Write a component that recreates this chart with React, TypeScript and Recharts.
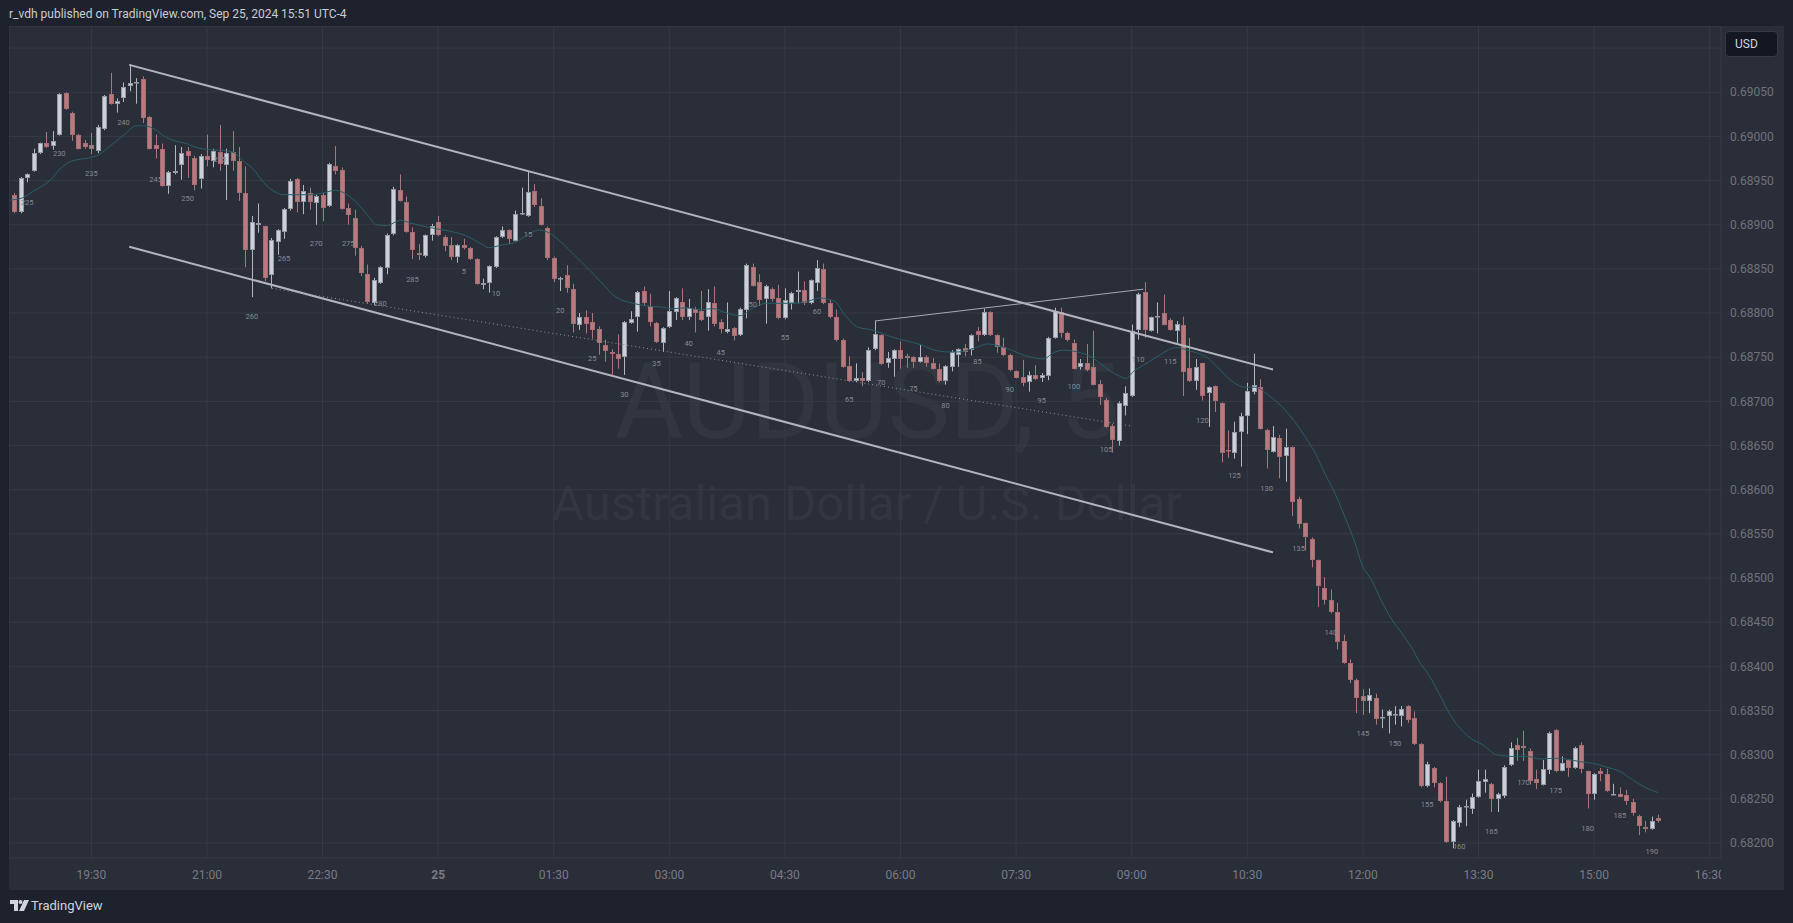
import React from 'react';
import {
  ComposedChart,
  Bar,
  Line,
  Scatter,
  XAxis,
  YAxis,
  CartesianGrid,
  ReferenceLine,
} from 'recharts';

// AUDUSD 5m, first candle 18:30 (Sep 24), last 15:50 (Sep 25)
const opens = [
  0.68934, 0.68914, 0.68953, 0.68961, 0.68981, 0.68993, 0.68989, 0.69002, 0.69049, 0.69027,
  0.69002, 0.68992, 0.6899, 0.68984, 0.69008, 0.69048, 0.69037, 0.69044, 0.69057, 0.6906,
  0.69065, 0.69022, 0.6899, 0.68986, 0.68944, 0.68958, 0.68968, 0.68983, 0.68975, 0.68952,
  0.68978, 0.68972, 0.68982, 0.68968, 0.68982, 0.68972, 0.68936, 0.68871, 0.689, 0.68898,
  0.68843, 0.68881, 0.68892, 0.68918, 0.68952, 0.68926, 0.68936, 0.68925, 0.68934, 0.68921,
  0.68967, 0.68962, 0.68919, 0.68908, 0.68874, 0.68844, 0.68811, 0.68834, 0.68851, 0.68889,
  0.68939, 0.68926, 0.68892, 0.68868, 0.68865, 0.68888, 0.68903, 0.68886, 0.68877, 0.68863,
  0.68877, 0.68874, 0.68861, 0.68832, 0.68834, 0.68852, 0.68886, 0.68894, 0.68882, 0.68912,
  0.6891, 0.68938, 0.68921, 0.68896, 0.68862, 0.68838, 0.68843, 0.68827, 0.68787, 0.68796,
  0.6879, 0.68782, 0.68764, 0.68756, 0.68754, 0.6875, 0.68789, 0.68795, 0.68825, 0.68808,
  0.68789, 0.68766, 0.68784, 0.68801, 0.68812, 0.68795, 0.68805, 0.68802, 0.68795, 0.68811,
  0.6879, 0.68778, 0.68783, 0.68775, 0.68803, 0.68852, 0.68835, 0.68816, 0.68827, 0.68817,
  0.68794, 0.68811, 0.68824, 0.68826, 0.68811, 0.68834, 0.6885, 0.68811, 0.68795, 0.6877,
  0.6874, 0.68723, 0.68727, 0.68723, 0.68759, 0.68775, 0.68743, 0.68748, 0.68758, 0.68751,
  0.6875, 0.68745, 0.6875, 0.68743, 0.68737, 0.68723, 0.68739, 0.68753, 0.6876, 0.68758,
  0.6878, 0.68775, 0.68801, 0.68775, 0.68762, 0.68753, 0.68734, 0.68728, 0.68722, 0.6873,
  0.68726, 0.68729, 0.68772, 0.68801, 0.68777, 0.68766, 0.68739, 0.68743, 0.68739, 0.6872,
  0.68702, 0.68672, 0.68655, 0.68695, 0.68706, 0.68781, 0.68824, 0.6878, 0.68795, 0.688,
  0.68792, 0.6878, 0.68787, 0.68738, 0.68723, 0.68743, 0.68709, 0.68717, 0.68698, 0.68645,
  0.68641, 0.68665, 0.68683, 0.68711, 0.68716, 0.68668, 0.68643, 0.68658, 0.68638, 0.68648,
  0.6859, 0.68562, 0.68544, 0.6852, 0.68489, 0.68475, 0.68461, 0.68429, 0.68404, 0.68385,
  0.68366, 0.68361, 0.68364, 0.68341, 0.68344, 0.68345, 0.68344, 0.68355, 0.68341, 0.68312,
  0.68264, 0.68285, 0.68268, 0.68247, 0.68201, 0.68223, 0.68241, 0.68238, 0.68252, 0.68269,
  0.68267, 0.6825, 0.68253, 0.68288, 0.68311, 0.6831, 0.68304, 0.68272, 0.68266, 0.68283,
  0.68328, 0.68282, 0.68294, 0.68285, 0.68311, 0.68281, 0.68256, 0.68281, 0.68278, 0.68255,
  0.68256, 0.68254, 0.68246, 0.6823, 0.68218, 0.68216, 0.68228,
];
const highs = [
  0.68936, 0.68954, 0.68958, 0.68986, 0.68993, 0.69005, 0.69006, 0.69049, 0.6905, 0.69028,
  0.69003, 0.68996, 0.69004, 0.69013, 0.69047, 0.69072, 0.69043, 0.69061, 0.69082, 0.69066,
  0.69068, 0.69023, 0.69002, 0.68992, 0.68961, 0.6899, 0.68988, 0.68988, 0.68978, 0.6898,
  0.69002, 0.68986, 0.69013, 0.68986, 0.69006, 0.68988, 0.68966, 0.6891, 0.68924, 0.68899,
  0.68885, 0.68895, 0.68919, 0.68952, 0.68953, 0.68945, 0.68942, 0.68934, 0.68936, 0.6897,
  0.68989, 0.68965, 0.68924, 0.68917, 0.68876, 0.68855, 0.6884, 0.68853, 0.6889, 0.68943,
  0.68957, 0.68932, 0.68897, 0.68878, 0.68889, 0.68901, 0.6891, 0.68888, 0.68886, 0.68878,
  0.68884, 0.68875, 0.68862, 0.68839, 0.68854, 0.68887, 0.68898, 0.68895, 0.68916, 0.68942,
  0.68961, 0.68946, 0.6893, 0.68898, 0.68864, 0.68841, 0.68854, 0.68833, 0.688, 0.68803,
  0.688, 0.68785, 0.6877, 0.68759, 0.68776, 0.68791, 0.68802, 0.68825, 0.6883, 0.68822,
  0.6879, 0.68784, 0.68825, 0.68818, 0.68828, 0.68816, 0.68807, 0.68825, 0.68827, 0.6883,
  0.68793, 0.68812, 0.68784, 0.68806, 0.68856, 0.68856, 0.68844, 0.68832, 0.68829, 0.68832,
  0.68828, 0.68824, 0.68847, 0.68836, 0.68838, 0.6886, 0.68856, 0.68815, 0.68804, 0.68771,
  0.68751, 0.68743, 0.68733, 0.68761, 0.68791, 0.68776, 0.68756, 0.68759, 0.68768, 0.68754,
  0.68751, 0.68764, 0.68752, 0.68749, 0.68743, 0.68741, 0.68758, 0.6876, 0.68765, 0.68776,
  0.68784, 0.68805, 0.68802, 0.68776, 0.68772, 0.68754, 0.68735, 0.68747, 0.68734, 0.68741,
  0.68732, 0.68773, 0.68806, 0.68806, 0.68779, 0.6877, 0.68748, 0.68765, 0.6878, 0.68724,
  0.68704, 0.68674, 0.687, 0.68717, 0.68787, 0.68823, 0.68835, 0.68796, 0.68812, 0.68821,
  0.68794, 0.68791, 0.68796, 0.68772, 0.68748, 0.68744, 0.68717, 0.68718, 0.68699, 0.68667,
  0.68677, 0.68687, 0.68721, 0.68754, 0.68725, 0.68669, 0.68672, 0.68662, 0.68669, 0.68649,
  0.68592, 0.68563, 0.68546, 0.68521, 0.68501, 0.68487, 0.68472, 0.68436, 0.68408, 0.68386,
  0.68374, 0.68375, 0.68369, 0.68351, 0.68351, 0.68355, 0.68355, 0.68356, 0.68349, 0.68313,
  0.68292, 0.68286, 0.68269, 0.68275, 0.68226, 0.68243, 0.68249, 0.68256, 0.68283, 0.68283,
  0.68268, 0.68257, 0.68288, 0.68314, 0.68319, 0.68327, 0.68307, 0.68283, 0.68294, 0.68326,
  0.68329, 0.68298, 0.68295, 0.68309, 0.68314, 0.68282, 0.68279, 0.68285, 0.68284, 0.68267,
  0.68263, 0.6826, 0.6825, 0.68232, 0.68225, 0.6823, 0.68232,
];
const lows = [
  0.68913, 0.68913, 0.68948, 0.6896, 0.6898, 0.68987, 0.68985, 0.69001, 0.6903, 0.68995,
  0.68985, 0.68986, 0.6898, 0.68981, 0.69007, 0.69036, 0.69027, 0.69039, 0.69051, 0.69037,
  0.69015, 0.68985, 0.68975, 0.68943, 0.68935, 0.68957, 0.68951, 0.68953, 0.68939, 0.68941,
  0.68966, 0.68965, 0.68961, 0.68928, 0.68961, 0.68927, 0.68852, 0.68818, 0.68891, 0.68836,
  0.68828, 0.68866, 0.68884, 0.68916, 0.68914, 0.68912, 0.68917, 0.689, 0.68904, 0.6892,
  0.68957, 0.68917, 0.689, 0.68865, 0.68842, 0.68811, 0.68809, 0.68833, 0.68844, 0.68888,
  0.68926, 0.68891, 0.68861, 0.6886, 0.68863, 0.68882, 0.68887, 0.6887, 0.6886, 0.68857,
  0.68872, 0.6886, 0.68832, 0.68827, 0.68823, 0.68851, 0.68885, 0.68878, 0.68881, 0.68911,
  0.68909, 0.6892, 0.68899, 0.6886, 0.68835, 0.68825, 0.68823, 0.68778, 0.68781, 0.68777,
  0.68771, 0.68753, 0.68745, 0.68728, 0.68737, 0.6873, 0.68788, 0.68779, 0.68809, 0.68785,
  0.68766, 0.68756, 0.68783, 0.68792, 0.68792, 0.68792, 0.68778, 0.68791, 0.6878, 0.68785,
  0.68777, 0.68777, 0.68769, 0.68774, 0.68794, 0.6883, 0.68808, 0.68788, 0.68813, 0.68793,
  0.68793, 0.68804, 0.68811, 0.68809, 0.6881, 0.68825, 0.6881, 0.68794, 0.68768, 0.68738,
  0.68722, 0.68722, 0.68717, 0.68722, 0.68758, 0.68741, 0.68738, 0.68728, 0.68737, 0.68738,
  0.68738, 0.68744, 0.68739, 0.68736, 0.68722, 0.68719, 0.68734, 0.68739, 0.68751, 0.68752,
  0.68768, 0.68774, 0.68774, 0.68755, 0.68751, 0.68734, 0.68726, 0.68717, 0.68711, 0.68724,
  0.68722, 0.68724, 0.68771, 0.68772, 0.68768, 0.68736, 0.68736, 0.68734, 0.68718, 0.68696,
  0.6867, 0.68642, 0.6865, 0.68684, 0.68705, 0.6877, 0.68772, 0.68779, 0.68777, 0.68786,
  0.6878, 0.68766, 0.68706, 0.68722, 0.68713, 0.68701, 0.68671, 0.68688, 0.68631, 0.68636,
  0.68635, 0.68626, 0.68663, 0.68708, 0.68668, 0.68624, 0.68642, 0.68613, 0.68609, 0.6857,
  0.68556, 0.68531, 0.68512, 0.68467, 0.6847, 0.6846, 0.68419, 0.68403, 0.68381, 0.68347,
  0.68345, 0.68347, 0.68334, 0.6833, 0.68324, 0.68334, 0.68332, 0.68336, 0.68311, 0.68263,
  0.68263, 0.68263, 0.68246, 0.682, 0.68194, 0.68218, 0.68219, 0.68233, 0.68251, 0.68257,
  0.68235, 0.68235, 0.68251, 0.68287, 0.68293, 0.68293, 0.68266, 0.68261, 0.68265, 0.68278,
  0.6828, 0.68281, 0.68275, 0.68284, 0.68279, 0.68239, 0.68249, 0.6827, 0.68258, 0.68254,
  0.68252, 0.68243, 0.68231, 0.68209, 0.68212, 0.68215, 0.68223,
];
const closes = [
  0.68914, 0.68953, 0.68957, 0.68981, 0.68992, 0.68988, 0.68995, 0.69048, 0.69031, 0.69002,
  0.68986, 0.68988, 0.68986, 0.69011, 0.69046, 0.69037, 0.6904, 0.69056, 0.6906, 0.69062,
  0.69021, 0.68986, 0.68986, 0.68944, 0.6896, 0.68961, 0.68981, 0.68978, 0.68945, 0.68978,
  0.68973, 0.68984, 0.68969, 0.68981, 0.68972, 0.68936, 0.68871, 0.68903, 0.68902, 0.6884,
  0.68883, 0.68894, 0.68918, 0.6895, 0.68926, 0.68938, 0.68926, 0.68933, 0.68919, 0.68969,
  0.68961, 0.68918, 0.68911, 0.68874, 0.68845, 0.68813, 0.68837, 0.68852, 0.68888, 0.68941,
  0.68927, 0.68892, 0.68871, 0.68866, 0.68888, 0.68898, 0.68888, 0.68876, 0.68864, 0.68877,
  0.68874, 0.68861, 0.68833, 0.68834, 0.68853, 0.68886, 0.68894, 0.68884, 0.68912, 0.68913,
  0.68937, 0.68922, 0.689, 0.68862, 0.68838, 0.6884, 0.68828, 0.68788, 0.68795, 0.68788,
  0.68781, 0.68766, 0.68757, 0.68754, 0.68748, 0.6879, 0.68793, 0.68824, 0.68811, 0.6879,
  0.68767, 0.68783, 0.68802, 0.68817, 0.68795, 0.68806, 0.688, 0.68792, 0.68813, 0.68788,
  0.68782, 0.68782, 0.68774, 0.68805, 0.68854, 0.68831, 0.68815, 0.68831, 0.68816, 0.68794,
  0.68815, 0.68823, 0.68826, 0.68811, 0.68837, 0.68851, 0.68811, 0.68796, 0.68769, 0.68739,
  0.68723, 0.68727, 0.68723, 0.68758, 0.68776, 0.68742, 0.68749, 0.68758, 0.68748, 0.68749,
  0.68745, 0.6875, 0.68743, 0.68737, 0.68723, 0.6874, 0.68756, 0.68759, 0.68756, 0.68775,
  0.68775, 0.68801, 0.68775, 0.68761, 0.68752, 0.68735, 0.68727, 0.68721, 0.6873, 0.68725,
  0.6873, 0.68772, 0.68802, 0.68777, 0.6877, 0.68737, 0.68743, 0.68735, 0.68719, 0.68705,
  0.68671, 0.68656, 0.68698, 0.68709, 0.6878, 0.68822, 0.68781, 0.68795, 0.68797, 0.68787,
  0.68781, 0.68788, 0.68733, 0.68723, 0.68739, 0.68706, 0.68716, 0.687, 0.68641, 0.68644,
  0.68665, 0.68683, 0.68712, 0.68718, 0.68669, 0.68645, 0.6866, 0.68637, 0.68648, 0.68586,
  0.68561, 0.68546, 0.6852, 0.68491, 0.68475, 0.68461, 0.68428, 0.68404, 0.68385, 0.68364,
  0.68361, 0.68367, 0.6834, 0.68343, 0.68349, 0.68346, 0.68352, 0.68339, 0.68312, 0.68264,
  0.68289, 0.68268, 0.68247, 0.68201, 0.68225, 0.68241, 0.68242, 0.68252, 0.6827, 0.68272,
  0.6825, 0.68256, 0.68286, 0.68308, 0.68305, 0.68307, 0.6827, 0.68268, 0.68284, 0.68325,
  0.68281, 0.6829, 0.68285, 0.68308, 0.68284, 0.68256, 0.68278, 0.68278, 0.68259, 0.68255,
  0.68252, 0.68247, 0.68234, 0.68219, 0.68216, 0.68225, 0.68225,
];

// moving average line at these candle positions
const emaIdx = [
  -0.6, 1.1, 3, 5.8, 7.1, 8.9, 11.8, 13.1, 14.9, 17,
  19, 20.2, 21.9, 23.2, 25, 26.8, 28.1, 30.5, 32.6, 34.1,
  35.7, 37.2, 38.8, 40.4, 41.9, 44, 46.1, 48.1, 50, 51.8,
  53.3, 54.9, 56.4, 58, 60.1, 61.6, 64.5, 67.6, 70.2, 72.8,
  73.8, 75.9, 78, 80, 81.6, 83.2, 85.2, 87.3, 89.4, 91.5,
  93.5, 96.4, 98.5, 100.5, 102.6, 104.7, 106.8, 108.8, 110.9, 113,
  115.1, 117.1, 119.2, 121.3, 123.4, 125.4, 127.8, 129.3, 131.4, 133.5,
  136.6, 139.2, 141.2, 143.3, 145.4, 147, 148.5, 150.1, 151.6, 153.2,
  155.3, 157.3, 160.3, 161.8, 163.4, 165.5, 167.5, 169.1, 170.7, 172,
  173.1, 174.3, 175.8, 177.4, 178.9, 181, 182.6, 184.1, 185.7, 187.3,
  188.8, 190.4, 191.7, 193.2, 195.3, 197.9, 199.4, 201, 202.6, 204.1,
  205.7, 207.2, 208.8, 209.8, 211.4, 212.9, 214.5, 216, 217.6, 218.9,
  220.2, 221.8, 223.6, 226.7, 228.7, 230.8, 233.4, 235.5, 237.6, 239.6,
  241.7, 243.8, 245.9, 247.9, 250, 252.1, 254.2, 256,
];
const emaVal = [
  0.68928, 0.6893, 0.68938, 0.68952, 0.68963, 0.68972, 0.68976, 0.68979, 0.68989, 0.69001,
  0.69012, 0.69012, 0.69008, 0.69001, 0.68995, 0.68992, 0.68988, 0.68985, 0.68984, 0.68982,
  0.68972, 0.68963, 0.68948, 0.68938, 0.68934, 0.68934, 0.68934, 0.68936, 0.68939, 0.68934,
  0.68925, 0.68912, 0.689, 0.68899, 0.68905, 0.68902, 0.68897, 0.68893, 0.68888, 0.68878,
  0.68874, 0.68877, 0.6888, 0.68889, 0.68894, 0.68891, 0.6888, 0.68865, 0.6885, 0.68834,
  0.68819, 0.68811, 0.68808, 0.68807, 0.68805, 0.68806, 0.68804, 0.68805, 0.688, 0.68797,
  0.68806, 0.68811, 0.68811, 0.68811, 0.68813, 0.68817, 0.68813, 0.68798, 0.68784, 0.68781,
  0.68773, 0.68768, 0.68764, 0.68758, 0.68756, 0.68756, 0.68758, 0.68762, 0.68765, 0.68763,
  0.68758, 0.68752, 0.68748, 0.68755, 0.68758, 0.68756, 0.68751, 0.68743, 0.68734, 0.68729,
  0.68726, 0.68734, 0.68741, 0.68748, 0.68755, 0.68761, 0.68758, 0.68755, 0.6875, 0.68739,
  0.68728, 0.68719, 0.68716, 0.68716, 0.68707, 0.6869, 0.68677, 0.6866, 0.68641, 0.68618,
  0.68595, 0.68569, 0.68539, 0.68516, 0.68497, 0.68474, 0.68453, 0.68438, 0.68421, 0.68404,
  0.68391, 0.6837, 0.68345, 0.68319, 0.68311, 0.683, 0.68298, 0.68298, 0.68295, 0.68296,
  0.68295, 0.68292, 0.6829, 0.68286, 0.68281, 0.68271, 0.68262, 0.68257,
];

// bar-count labels (count restarts at the daily session) and where they sit
const countBars = [
  225, 230, 235, 240, 245, 250, 255, 260, 265, 270, 275, 280, 285,
  5, 10, 15, 20, 25, 30, 35, 40, 45, 50, 55, 60, 65, 70, 75, 80, 85, 90, 95, 100,
  105, 110, 115, 120, 125, 130, 135, 140, 145, 150, 155, 160, 165, 170, 175, 180, 185, 190,
];
const countPrices = [
  0.68925, 0.68981, 0.68958, 0.69016, 0.68951, 0.6893, 0.68974, 0.68796, 0.68862, 0.68879, 0.68879, 0.68811, 0.68838,
  0.68847, 0.68822, 0.68889, 0.68803, 0.68749, 0.68708, 0.68743, 0.68766, 0.68756, 0.6881, 0.68772, 0.68802, 0.68702,
  0.68721, 0.68715, 0.68696, 0.68745, 0.68714, 0.68701, 0.68717, 0.68646, 0.68748, 0.68745, 0.68679, 0.68616, 0.68601,
  0.68534, 0.68438, 0.68324, 0.68313, 0.68244, 0.68196, 0.68213, 0.68269, 0.6826, 0.68217, 0.68231, 0.68191,
];
const FIRST_BAR = 223;
const BARS_PER_DAY = 288;

const timeTickIdx = [12, 30, 48, 66, 84, 102, 120, 138, 156, 174, 192, 210, 228, 246, 264];
const timeTickLabels = ['19:30', '21:00', '22:30', '25', '01:30', '03:00', '04:30', '06:00', '07:30', '09:00', '10:30', '12:00', '13:30', '15:00', '16:30'];
const priceTicks = [
  0.682, 0.6825, 0.683, 0.6835, 0.684, 0.6845, 0.685, 0.6855, 0.686, 0.6865,
  0.687, 0.6875, 0.688, 0.6885, 0.689, 0.6895, 0.69, 0.6905, 0.691,
];

// drawings on the chart (candle index, price)
const upperChannel = [{ x: 17.9, y: 0.69081 }, { x: 196, y: 0.68736 }];
const lowerChannel = [{ x: 17.9, y: 0.68875 }, { x: 196, y: 0.68529 }];
const thinLine = [{ x: 134, y: 0.68791 }, { x: 175.8, y: 0.68827 }];
const dottedLine = [{ x: 40.1, y: 0.68828 }, { x: 174, y: 0.68672 }];

const rows = opens.map((o, i) => ({
  i,
  o,
  h: highs[i],
  l: lows[i],
  c: closes[i],
  range: [lows[i], highs[i]],
}));
const emaData = emaIdx.map((i, k) => ({ i, ema: emaVal[k] }));
const countData = countBars.map((b, k) => ({
  i: b >= FIRST_BAR ? b - FIRST_BAR : b + BARS_PER_DAY - FIRST_BAR,
  p: countPrices[k],
  txt: String(b),
}));

const FONT = 'Roboto, "Noto Sans", sans-serif';
const FRAME = '#1e222d';
const PANE = '#2a2e39';
const GRID = '#363a45';
const UP_FILL = '#cdd0d8';
const UP_LINE = '#959aa4';
const UP_WICK = '#b4b7c0';
const DN_FILL = '#b77a7f';
const DN_LINE = '#a46d72';
const DN_WICK = '#a9767a';

function Candle(props: any) {
  const { x, y, width, height, payload } = props;
  if (!payload || !Number.isFinite(y)) return null;
  const { o, h, l, c } = payload;
  const top = Math.min(y, y + height);
  const span = Math.abs(height);
  const k = h > l ? span / (h - l) : 0;
  const py = (p: number) => top + (h - p) * k;
  const mid = Math.round(x + width / 2);
  const up = c >= o;
  const b1 = Math.round(py(Math.max(o, c)));
  const b2 = Math.round(py(Math.min(o, c)));
  return (
    <g>
      <line
        x1={mid + 0.5}
        x2={mid + 0.5}
        y1={top}
        y2={top + span}
        stroke={up ? UP_WICK : DN_WICK}
        strokeWidth={1}
      />
      <rect
        x={mid - 1.5}
        y={b1 + 0.5}
        width={4}
        height={Math.max(b2 - b1 - 1, 0.5)}
        fill={up ? UP_FILL : DN_FILL}
        stroke={up ? UP_LINE : DN_LINE}
        strokeWidth={1}
      />
    </g>
  );
}

function CountLabel(props: any) {
  const { cx, cy, payload } = props;
  if (!payload) return null;
  return (
    <text
      x={cx}
      y={cy}
      dy="0.35em"
      textAnchor="middle"
      fontSize={7.5}
      fill="#868994"
      fontFamily={FONT}
    >
      {payload.txt}
    </text>
  );
}

function TimeTick(props: any) {
  const { x, y, payload } = props;
  const k = timeTickIdx.indexOf(payload.value);
  const lbl = timeTickLabels[k] ?? '';
  return (
    <text
      x={x}
      y={y + 21}
      textAnchor="middle"
      fontSize={12}
      fontWeight={lbl === '25' ? 700 : 400}
      fill="#787b86"
      fontFamily={FONT}
    >
      {lbl}
    </text>
  );
}

function PriceTick(props: any) {
  const { x, y, payload } = props;
  return (
    <text x={x} y={y} dy="0.35em" textAnchor="start" fontSize={12} fill="#6f727d" fontFamily={FONT}>
      {Number(payload.value).toFixed(5)}
    </text>
  );
}

export default function App() {
  return (
    <div
      style={{
        position: 'relative',
        width: 1793,
        height: 923,
        background: FRAME,
        fontFamily: FONT,
        overflow: 'hidden',
      }}
    >
      <style>{'html,body{margin:0;padding:0;background:#1e222d}'}</style>
      <div
        style={{
          position: 'absolute',
          left: 9,
          top: 6,
          fontSize: 12,
          lineHeight: '16px',
          color: '#c9ccd3',
          whiteSpace: 'nowrap',
        }}
      >
        r_vdh published on TradingView.com, Sep 25, 2024 15:51 UTC-4
      </div>

      <div
        style={{
          position: 'absolute',
          left: 9,
          top: 26,
          width: 1775,
          height: 864,
          background: PANE,
        }}
      >
        <svg width={1712} height={832} style={{ position: 'absolute', left: 0, top: 0 }}>
          <text x={858} y={412} textAnchor="middle" fontSize={105} fill="rgba(255,255,255,0.04)" fontFamily={FONT}>
            AUDUSD, 5
          </text>
          <text x={858} y={494} textAnchor="middle" fontSize={49} fill="rgba(255,255,255,0.04)" fontFamily={FONT}>
            Australian Dollar / U.S. Dollar
          </text>
        </svg>

        <div style={{ position: 'absolute', left: 0, top: 0 }}>
          <ComposedChart
            width={1775}
            height={864}
            data={rows}
            margin={{ top: 0, right: 0, bottom: 0, left: 0 }}
          >
            <CartesianGrid stroke={GRID} strokeWidth={1} />
            <XAxis
              dataKey="i"
              type="number"
              domain={[-0.825, 265.76]}
              allowDataOverflow
              ticks={timeTickIdx}
              interval={0}
              height={32}
              tickSize={0}
              tickMargin={0}
              axisLine={false}
              tickLine={false}
              tick={<TimeTick />}
            />
            <YAxis
              orientation="right"
              type="number"
              domain={[0.68183, 0.69125]}
              allowDataOverflow
              ticks={priceTicks}
              interval={0}
              width={63}
              tickSize={0}
              tickMargin={9}
              axisLine={false}
              tickLine={false}
              tick={<PriceTick />}
            />
            <Line
              data={emaData}
              dataKey="ema"
              type="monotone"
              stroke="#275e6a"
              strokeWidth={1}
              dot={false}
              activeDot={false}
              connectNulls
              isAnimationActive={false}
            />
            <Bar dataKey="range" barSize={4} shape={<Candle />} isAnimationActive={false} />
            <ReferenceLine segment={upperChannel} stroke="#b2b5be" strokeWidth={2} />
            <ReferenceLine segment={lowerChannel} stroke="#b2b5be" strokeWidth={2} />
            <ReferenceLine segment={thinLine} stroke="#a7aab3" strokeWidth={1} />
            <ReferenceLine segment={dottedLine} stroke="#8e919b" strokeWidth={1} strokeDasharray="1 3" />
            <Scatter data={countData} dataKey="p" shape={<CountLabel />} isAnimationActive={false} />
          </ComposedChart>
        </div>

        {/* price scale corner hides the cut time label */}
        <div
          style={{
            position: 'absolute',
            left: 1712,
            top: 832,
            width: 63,
            height: 32,
            background: PANE,
          }}
        />

        <div
          style={{
            position: 'absolute',
            left: 1716,
            top: 5,
            width: 53,
            height: 26,
            background: '#131722',
            border: '1px solid #363a45',
            borderRadius: 4,
            color: '#d1d4dc',
            fontSize: 12,
            lineHeight: '24px',
            paddingLeft: 9,
            boxSizing: 'border-box',
          }}
        >
          USD
        </div>
      </div>

      <svg width={20} height={12} style={{ position: 'absolute', left: 10, top: 900 }}>
        <path d="M0 0h8v11H4V4H0z" fill="#d1d4dc" />
        <circle cx={10.5} cy={2} r={2} fill="#d1d4dc" />
        <path d="M14 0h5l-5 11H9z" fill="#d1d4dc" />
      </svg>
      <div
        style={{
          position: 'absolute',
          left: 31,
          top: 897,
          fontSize: 13,
          lineHeight: '18px',
          color: '#d1d4dc',
        }}
      >
        TradingView
      </div>
    </div>
  );
}
